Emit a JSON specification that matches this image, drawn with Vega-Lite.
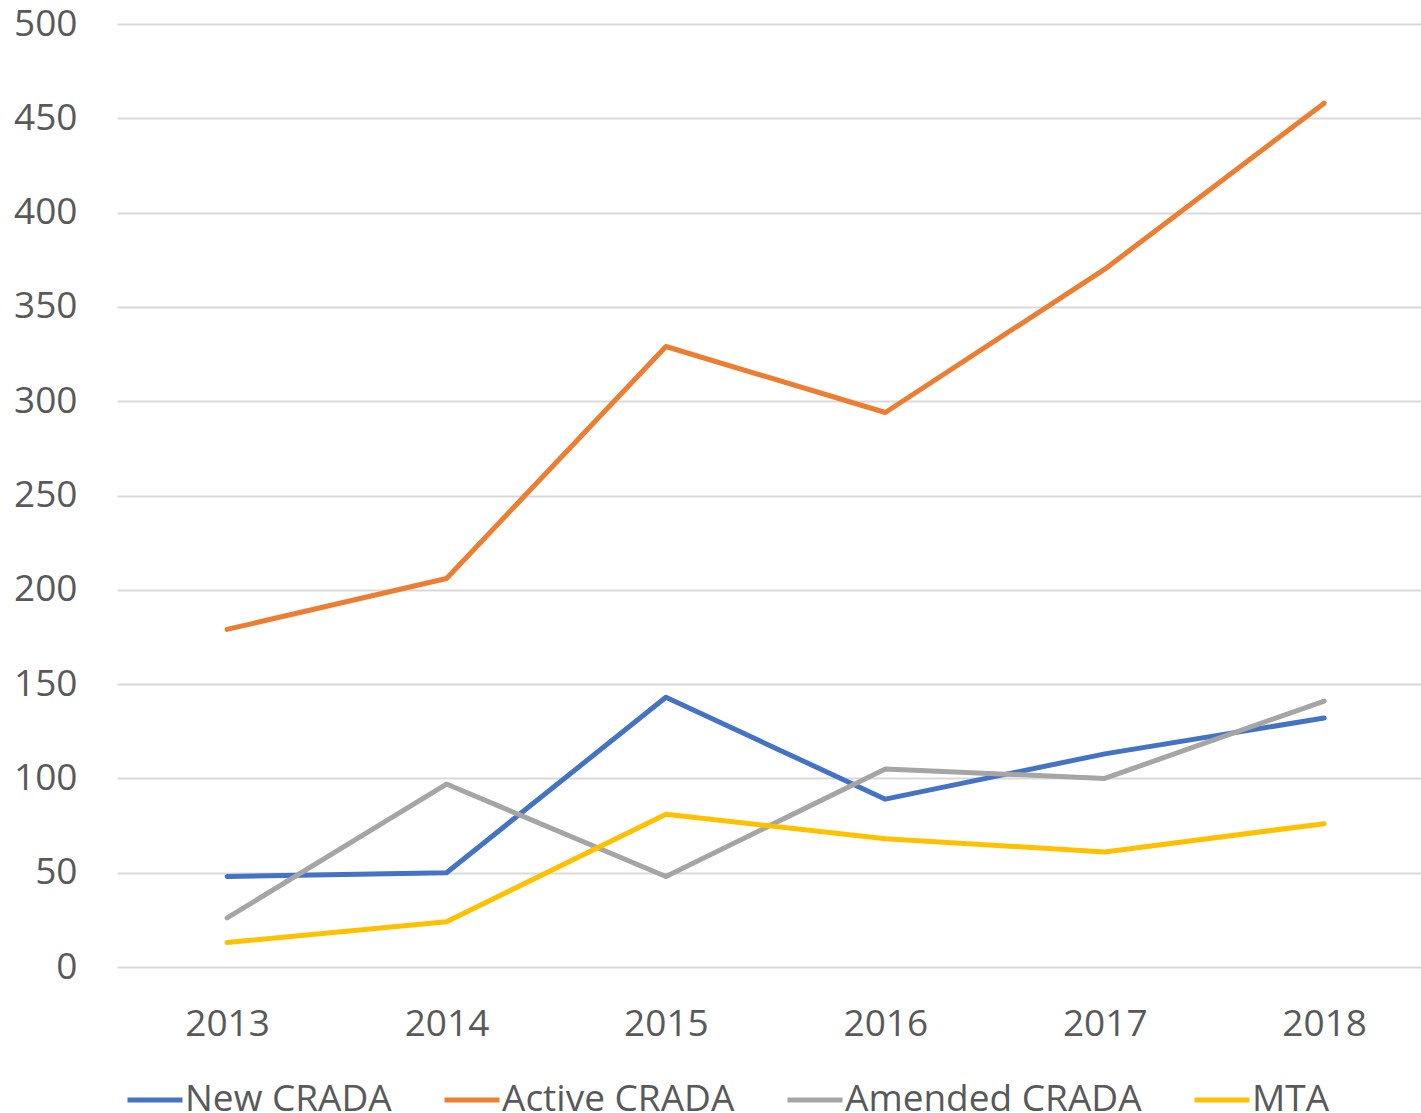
{
  "$schema": "https://vega.github.io/schema/vega-lite/v6.json",
  "width": 1304,
  "height": 943,
  "autosize": {"type": "none"},
  "padding": {"left": 117, "top": 24, "right": 0, "bottom": 146},
  "background": "white",
  "config": {"view": {"stroke": null}, "font": "Open Sans"},
  "data": {
    "values": [
      {"year": "2013", "series": "New CRADA", "value": 48},
      {"year": "2014", "series": "New CRADA", "value": 50},
      {"year": "2015", "series": "New CRADA", "value": 143},
      {"year": "2016", "series": "New CRADA", "value": 89},
      {"year": "2017", "series": "New CRADA", "value": 113},
      {"year": "2018", "series": "New CRADA", "value": 132},
      {"year": "2013", "series": "Active CRADA", "value": 179},
      {"year": "2014", "series": "Active CRADA", "value": 206},
      {"year": "2015", "series": "Active CRADA", "value": 329},
      {"year": "2016", "series": "Active CRADA", "value": 294},
      {"year": "2017", "series": "Active CRADA", "value": 370},
      {"year": "2018", "series": "Active CRADA", "value": 458},
      {"year": "2013", "series": "Amended CRADA", "value": 26},
      {"year": "2014", "series": "Amended CRADA", "value": 97},
      {"year": "2015", "series": "Amended CRADA", "value": 48},
      {"year": "2016", "series": "Amended CRADA", "value": 105},
      {"year": "2017", "series": "Amended CRADA", "value": 100},
      {"year": "2018", "series": "Amended CRADA", "value": 141},
      {"year": "2013", "series": "MTA", "value": 13},
      {"year": "2014", "series": "MTA", "value": 24},
      {"year": "2015", "series": "MTA", "value": 81},
      {"year": "2016", "series": "MTA", "value": 68},
      {"year": "2017", "series": "MTA", "value": 61},
      {"year": "2018", "series": "MTA", "value": 76}
    ]
  },
  "mark": {"type": "line", "strokeWidth": 5, "strokeCap": "round", "strokeJoin": "round"},
  "encoding": {
    "x": {
      "field": "year",
      "type": "ordinal",
      "scale": {"type": "point", "padding": 0.4716, "align": 0.532},
      "axis": {
        "title": null,
        "labelAngle": 0,
        "domain": false,
        "ticks": false,
        "grid": false,
        "labelFontSize": 37,
        "labelColor": "#595959",
        "labelPadding": 39
      }
    },
    "y": {
      "field": "value",
      "type": "quantitative",
      "scale": {"domain": [0, 500], "nice": false},
      "axis": {
        "title": null,
        "values": [0, 50, 100, 150, 200, 250, 300, 350, 400, 450, 500],
        "domain": false,
        "ticks": false,
        "gridColor": "#D9D9D9",
        "gridWidth": 2,
        "labelFontSize": 37,
        "labelColor": "#595959",
        "labelPadding": 40
      }
    },
    "color": {
      "field": "series",
      "type": "nominal",
      "sort": ["New CRADA", "Active CRADA", "Amended CRADA", "MTA"],
      "scale": {
        "domain": ["New CRADA", "Active CRADA", "Amended CRADA", "MTA"],
        "range": ["#4472C4", "#ED7D31", "#A5A5A5", "#FFC000"]
      },
      "legend": {
        "title": null,
        "orient": "none",
        "direction": "horizontal",
        "legendX": 8,
        "legendY": 1046,
        "symbolType": "stroke",
        "symbolSize": 3025,
        "symbolStrokeWidth": 5,
        "labelFontSize": 37,
        "labelColor": "#595959",
        "labelOffset": 0,
        "columnPadding": 42,
        "labelLimit": 500
      }
    }
  }
}
